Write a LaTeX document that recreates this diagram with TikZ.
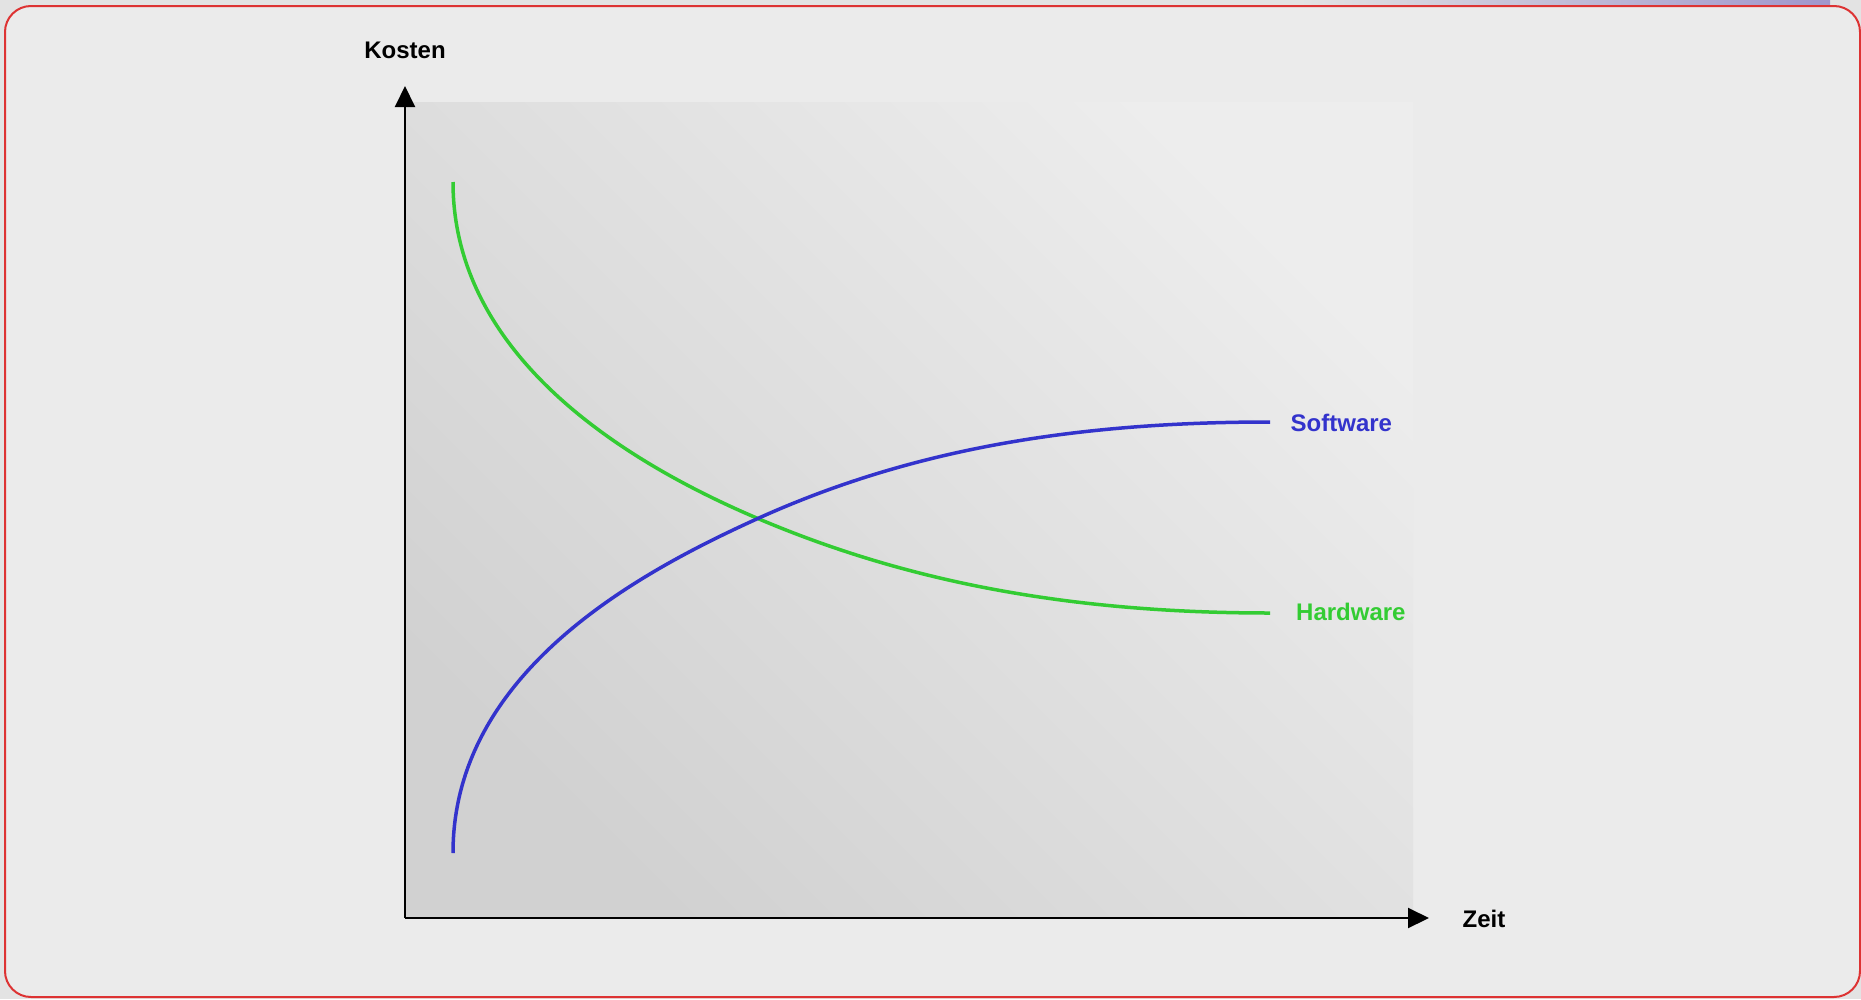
\documentclass[tikz,border=0pt]{standalone}
\usepackage{fontspec}
\setmainfont{Liberation Sans}
\usetikzlibrary{arrows.meta}
\definecolor{outerbg}{HTML}{E3E3E3}
\definecolor{innerbg}{HTML}{EBEBEB}
\definecolor{frame}{HTML}{DD3333}
\definecolor{swblue}{HTML}{3333CC}
\definecolor{hwgreen}{HTML}{33CC33}
\definecolor{plotdark}{HTML}{D1D1D1}
\definecolor{plotlight}{HTML}{EDEDED}
\definecolor{lav}{HTML}{A096CC}
\tikzset{
  axisline/.style={line width=2pt, black, -{Triangle[length=21pt,width=20pt]}},
  curveline/.style={line width=3.5pt},
  lbl/.style={inner sep=0pt, font=\bfseries\fontsize{24}{28}\selectfont},
}
\begin{document}
\begin{tikzpicture}[x=1pt,y=-1pt]
\useasboundingbox (0,0) rectangle (1861,999);
% outer background
\fill[outerbg] (0,0) rectangle (1861,999);
\shade[left color=outerbg, right color=lav] (1300,0) rectangle (1830,8);
% frame
\draw[frame, fill=innerbg, line width=2pt, rounded corners=26pt] (5,6) rectangle (1860,997);
% plot area
\shade[left color=plotlight, right color=plotdark, shading angle=-45] (405,102) rectangle (1413,918);
% axes
\coordinate (O) at (405,918);
\coordinate (ytip) at (405,86);
\coordinate (xtip) at (1429,918);
\draw[axisline] (O) -- (ytip);
\draw[axisline] (O) -- (xtip);
\node[lbl, anchor=center] (kosten) at (405,50.5) {Kosten};
\node[lbl, anchor=center] (zeit) at (1484,918.5) {Zeit};
% curves
\coordinate (s0) at (453,853);
\coordinate (sx) at (756.7,519);
\coordinate (s1) at (1270,422);
\coordinate (h0) at (453,182);
\coordinate (hx) at (756.7,518);
\coordinate (h1) at (1270,613);
\draw[curveline, hwgreen] (h0) .. controls (453,362) and (636.7,466.8) .. (hx)
  .. controls (906.7,582) and (1070,613) .. (h1);
\draw[curveline, swblue] (s0) .. controls (453,673) and (636.7,573.5) .. (sx)
  .. controls (906.7,450.9) and (1070,422) .. (s1);
\node[lbl, anchor=west, text=swblue] (sw) at (1290.5,422.5) {Software};
\node[lbl, anchor=west, text=hwgreen] (hw) at (1296,612) {Hardware};
\end{tikzpicture}
\end{document}
